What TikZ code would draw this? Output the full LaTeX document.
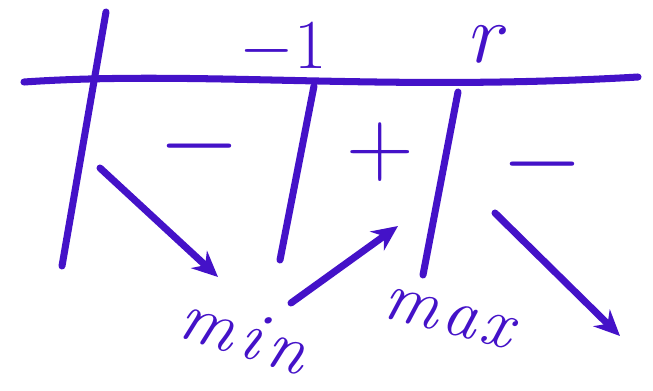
\RequirePackage{fix-cm}
\documentclass[tikz,border=0pt]{standalone}
\usepackage{tikz}
\usetikzlibrary{arrows.meta,positioning}
\definecolor{ink}{HTML}{4412C8}

\begin{document}
\begin{tikzpicture}[x=0.03cm,y=-0.03cm,>={Stealth[length=22pt,width=20pt]},
   line width=6pt,line cap=round,draw=ink,
   every node/.style={text=ink,font=\fontsize{60}{60}\selectfont}]
  \useasboundingbox (0,0) rectangle (653,390);
  % axis and breaks
  \coordinate (axL) at (24,82);
  \coordinate (axR) at (638,77);
  \coordinate (v1t) at (106,12);
  \coordinate (v1b) at (62,266);
  \coordinate (v2t) at (314,86);
  \coordinate (v2b) at (280,260);
  \coordinate (v3t) at (458,92);
  \coordinate (v3b) at (423,275);
  \draw (axL) .. controls (200,70) and (380,92) .. (axR);
  \draw (v1t) -- (v1b);
  \draw (v2t) -- (v2b);
  \draw (v3t) -- (v3b);
  % critical points
  \node (c1) [anchor=base east] at (334,68) {$-1$};
  \node (c2) [anchor=base,font=\fontsize{72}{72}\selectfont] at (490,62) {$r$};
  % signs
  \node (s1) [font=\fontsize{90}{90}\selectfont] at (200,146) {$-$};
  \node (s2) [font=\fontsize{80}{80}\selectfont] at (380,152) {$+$};
  \node (s3) [font=\fontsize{90}{90}\selectfont] at (542,164) {$-$};
  % monotonicity
  \coordinate (a1s) at (100,168);
  \coordinate (a1e) at (218,277);
  \coordinate (a2s) at (291,303);
  \coordinate (a2e) at (398,226);
  \coordinate (a3s) at (495,213);
  \coordinate (a3e) at (620,336);
  \draw[->] (a1s) -- (a1e);
  \draw[->] (a2s) -- (a2e);
  \draw[->] (a3s) -- (a3e);
  \node (lmin) [rotate=-18,font=\fontsize{60}{60}\selectfont\itshape] at (244,334) {m\kern6pt i\kern6pt n};
  \node (lmax) [rotate=-14,font=\fontsize{60}{60}\selectfont\itshape] at (448,318) {m\kern4pt a\kern4pt x};
\end{tikzpicture}
\end{document}
